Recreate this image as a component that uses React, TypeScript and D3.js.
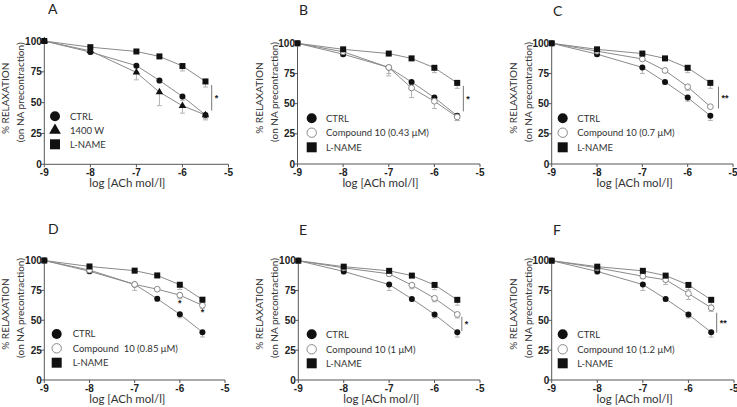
import React from "react";
import * as d3 from "d3";

const xDoses = [-9, -8, -7, -6.5, -6, -5.5];
const xTicks = [-9, -8, -7, -6, -5];
const yTicks = [0, 25, 50, 75, 100];

const ctrlMean = [100, 91, 80, 68, 55, 40];
const ctrlErr = [0, 2, 5, 2, 3, 4];
const lnameMean = [100, 95, 91.5, 87.5, 79.7, 67.2];
const lnameErr = [0, 1.5, 1, 1.5, 4, 4.5];

const w1400Mean = [100, 92, 74.5, 58.5, 47.5, 40];
const w1400Err = [0, 2, 6, 11, 6, 3];
const c043Mean = [100, 93, 80, 63, 52, 39];
const c043Err = [0, 2, 7, 8, 6, 3];
const c07Mean = [100, 93.5, 87, 77.5, 64, 47.5];
const c07Err = [0, 1, 1, 1, 3, 1];
const c085Mean = [100, 92, 80, 76, 71, 62.5];
const c085Err = [0, 1, 2, 1.5, 3, 2.5];
const c1Mean = [100, 94, 89, 79.5, 68.5, 55];
const c1Err = [0, 1, 2, 3, 3, 3];
const c12Mean = [100, 94, 87, 84, 72.5, 60.5];
const c12Err = [0, 1, 2, 4, 5, 3];

const panelLetters = ["A", "B", "C", "D", "E", "F"];
const treatLabels = [
  "1400 W",
  "Compound 10 (0.43 \u03bcM)",
  "Compound 10 (0.7 \u03bcM)",
  "Compound  10 (0.85 \u03bcM)",
  "Compound 10 (1 \u03bcM)",
  "Compound 10 (1.2 \u03bcM)",
];
const treatMeans = [w1400Mean, c043Mean, c07Mean, c085Mean, c1Mean, c12Mean];
const treatErrs = [w1400Err, c043Err, c07Err, c085Err, c1Err, c12Err];
const treatShapes = ["triangle", "open", "open", "open", "open", "open"];

// significance brackets: [x, low, high, label] (null = none)
const sigX = [-5.365, -5.365, -5.32, null, -5.4, -5.38];
const sigLow = [43.5, 43.6, 46, null, 41, 39.6];
const sigHigh = [64.3, 64.8, 64, null, 53, 56.4];
const sigLabel = ["*", "*", "**", "", "*", "**"];
// individual point stars (panel D)
const starPanel = [3, 3];
const starX = [-6, -5.5];
const starY = [64.6, 57];

// layout
const layout = [
  { l: 44.3, r: 228.5, t: 41, b: 164.3, lx: 10.7, tx: 25.7, ly: [-48, -34, -20] },
  { l: 297.5, r: 480, t: 43.3, b: 164, lx: 14.2, tx: 28.5, ly: [-45.7, -31.3, -16.7] },
  { l: 551.7, r: 733, t: 43.3, b: 164, lx: 11, tx: 25.6, ly: [-45.7, -31.3, -16.7] },
  { l: 44.3, r: 225, t: 260.5, b: 380, lx: 12.4, tx: 28.4, ly: [-46, -31.7, -17.3] },
  { l: 298.3, r: 480, t: 260.7, b: 380, lx: 13.4, tx: 27.7, ly: [-45.7, -30.7, -16.7] },
  { l: 551.7, r: 734, t: 260.7, b: 380, lx: 11, tx: 25.6, ly: [-45.7, -30.7, -16.7] },
];
const letterPos = [
  [48, 13.5], [299, 15], [553, 16], [48, 234], [299, 235], [553, 235],
];

const LINE = "#8a8a8a";
const ERR = "#b3b3b3";
const AXIS = "#555";
const MARK = "#111";
const TXT = "#333";
const LABEL_FONT = "Lato, 'Open Sans', sans-serif";
const TICK_FONT = "'Liberation Sans', Arial, sans-serif";

function Marker({ shape, x, y, s }: { shape: string; x: number; y: number; s: number }) {
  if (shape === "circle") return <circle cx={x} cy={y} r={s} fill={MARK} />;
  if (shape === "open")
    return <circle cx={x} cy={y} r={s - 0.3} fill="#fff" stroke="#8a8a8a" strokeWidth={1} />;
  if (shape === "square")
    return <rect x={x - s} y={y - s} width={2 * s} height={2 * s} fill={MARK} />;
  const sym = d3.symbol(d3.symbolTriangle, s * s * 2.4)();
  return <path d={sym as string} transform={`translate(${x},${y})`} fill={MARK} />;
}

function Panel({ i }: { i: number }) {
  const L = layout[i];
  const x = d3.scaleLinear().domain([-9, -5]).range([L.l, L.r]);
  const y = d3.scaleLinear().domain([0, 100]).range([L.b, L.t]);
  const line = d3
    .line<number>()
    .x((_, k) => x(xDoses[k]))
    .y((v) => y(v));

  const series = [
    { mean: ctrlMean, err: ctrlErr, shape: "circle", label: "CTRL", s: 3 },
    { mean: treatMeans[i], err: treatErrs[i], shape: treatShapes[i], label: treatLabels[i], s: 3.2 },
    { mean: lnameMean, err: lnameErr, shape: "square", label: "L-NAME", s: 3 },
  ];
  const xt = L.l + 83;

  return (
    <g>
      <text x={letterPos[i][0]} y={letterPos[i][1]} fontFamily={LABEL_FONT} fontSize={14} fill="#222">
        {panelLetters[i]}
      </text>
      {/* axes */}
      <line x1={L.l} x2={L.l} y1={y(0)} y2={y(100)} stroke={AXIS} strokeWidth={1} />
      <line x1={L.l} x2={L.r} y1={L.b} y2={L.b} stroke={AXIS} strokeWidth={1} />
      {yTicks.map((t) => (
        <g key={"y" + t}>
          <line x1={L.l - 3} x2={L.l} y1={y(t)} y2={y(t)} stroke={AXIS} />
          <text
            x={L.l - 2.5}
            y={y(t)}
            dy="0.35em"
            textAnchor="end"
            fontFamily={TICK_FONT}
            fontWeight="bold"
            fontSize={10}
            fill="#222"
          >
            {t}
          </text>
        </g>
      ))}
      {xTicks.map((t) => (
        <g key={"x" + t}>
          <line x1={x(t)} x2={x(t)} y1={L.b} y2={L.b + 3} stroke={AXIS} />
          <text
            x={x(t)}
            y={L.b + 11.5}
            textAnchor="middle"
            fontFamily={TICK_FONT}
            fontWeight="bold"
            fontSize={10}
            fill="#222"
          >
            {String(t)}
          </text>
        </g>
      ))}
      {/* axis titles */}
      <text x={xt} y={L.b + 23} textAnchor="middle" fontFamily={LABEL_FONT} fontSize={11.5} fill={TXT}>
        log [ACh mol/l]
      </text>
      <text
        transform={`translate(${L.l - 35},${L.b - 66}) rotate(-90)`}
        textAnchor="middle"
        fontFamily={LABEL_FONT}
        fontSize={10}
        fill={TXT}
      >
        % RELAXATION
      </text>
      <text
        transform={`translate(${L.l - 20},${L.b - 72}) rotate(-90)`}
        textAnchor="middle"
        fontFamily={LABEL_FONT}
        fontSize={10}
        fill={TXT}
      >
        (on NA precontraction)
      </text>
      {/* lines */}
      {series.map((s, k) => (
        <path key={"l" + k} d={line(s.mean) as string} fill="none" stroke={LINE} strokeWidth={1} />
      ))}
      {/* error bars */}
      {series.map((s, k) =>
        s.mean.map((m, j) =>
          s.err[j] > 0 ? (
            <g key={"e" + k + "-" + j}>
              <line x1={x(xDoses[j])} x2={x(xDoses[j])} y1={y(m)} y2={y(m - s.err[j])} stroke={ERR} />
              <line
                x1={x(xDoses[j]) - 2.5}
                x2={x(xDoses[j]) + 2.5}
                y1={y(m - s.err[j])}
                y2={y(m - s.err[j])}
                stroke={ERR}
              />
            </g>
          ) : null
        )
      )}
      {/* markers */}
      {series.map((s, k) =>
        s.mean.map((m, j) => (
          <Marker key={"m" + k + "-" + j} shape={s.shape} x={x(xDoses[j])} y={y(m)} s={s.s} />
        ))
      )}
      {/* significance */}
      {sigX[i] !== null ? (
        <g>
          <line
            x1={x(sigX[i] as number)}
            x2={x(sigX[i] as number)}
            y1={y(sigLow[i] as number)}
            y2={y(sigHigh[i] as number)}
            stroke="#777"
          />
          <text
            x={x(sigX[i] as number) + 3}
            y={y(((sigLow[i] as number) + (sigHigh[i] as number)) / 2) + 3.5}
            fontFamily={TICK_FONT}
            fontSize={9}
            fontWeight="bold"
            fill="#222"
          >
            {sigLabel[i]}
          </text>
        </g>
      ) : null}
      {starPanel.map((p, k) =>
        p === i ? (
          <text
            key={"st" + k}
            x={x(starX[k])}
            y={y(starY[k]) + 3.5}
            textAnchor="middle"
            fontFamily={TICK_FONT}
            fontSize={9}
            fontWeight="bold"
            fill="#222"
          >
            *
          </text>
        ) : null
      )}
      {/* legend */}
      {series.map((s, k) => (
        <g key={"lg" + k}>
          <Marker shape={s.shape} x={L.l + L.lx} y={L.b + L.ly[k]} s={5} />
          <text
            x={L.l + L.tx}
            y={L.b + L.ly[k]}
            dy="0.35em"
            fontFamily={LABEL_FONT}
            fontSize={9.5}
            fill={TXT}
            style={{ whiteSpace: "pre" }}
          >
            {s.label}
          </text>
        </g>
      ))}
    </g>
  );
}

export default function App() {
  return (
    <svg
      width={737}
      height={407}
      style={{ position: "absolute", left: 0, top: 0, background: "#fff" }}
    >
      <rect width={737} height={407} fill="#fff" />
      {panelLetters.map((_, i) => (
        <Panel key={i} i={i} />
      ))}
    </svg>
  );
}
